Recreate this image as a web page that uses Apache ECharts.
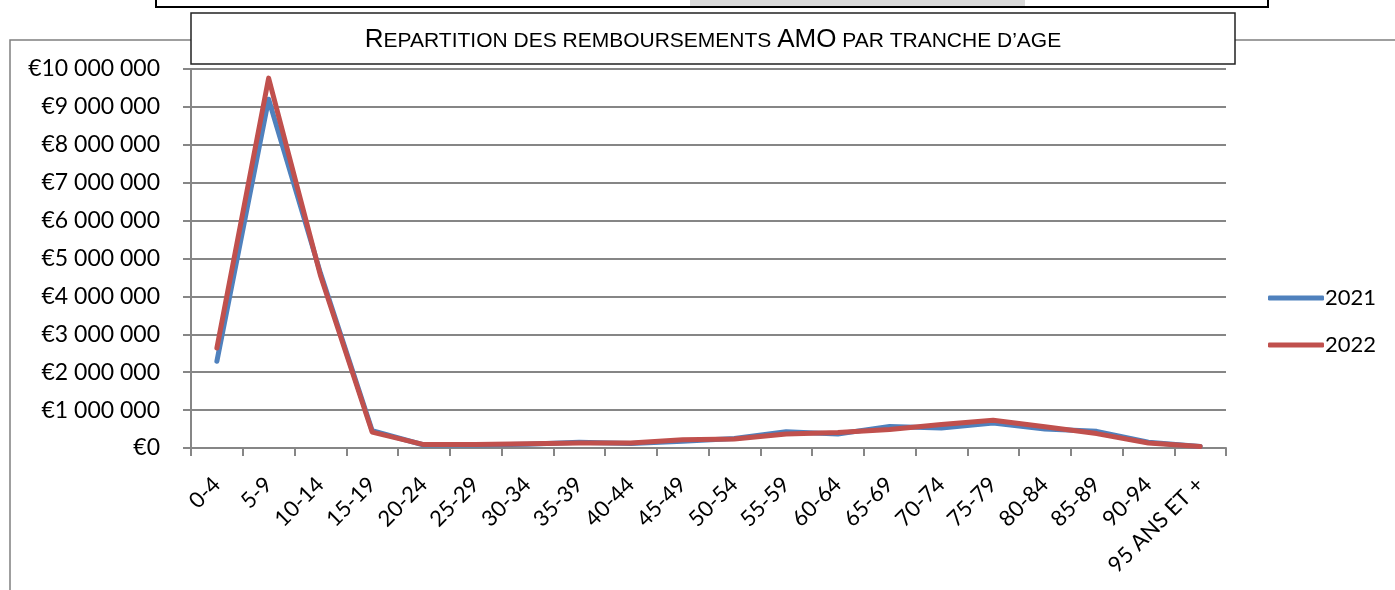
<!DOCTYPE html>
<html>
<head>
<meta charset="utf-8">
<script src="https://cdn.jsdelivr.net/npm/echarts@6/dist/echarts.min.js"></script>
<style>
  html, body { margin: 0; padding: 0; background: #fff; }
  #chart { width: 1395px; height: 590px; }
</style>
</head>
<body>
<div id="chart"></div>
<script>
// tranches d'age
const categories = ['0-4', '5-9', '10-14', '15-19', '20-24', '25-29', '30-34', '35-39', '40-44', '45-49',
    '50-54', '55-59', '60-64', '65-69', '70-74', '75-79', '80-84', '85-89', '90-94', '95 ANS ET +'];
const values2021 = [2290000, 9200000, 4620000, 460000, 80000, 80000, 100000, 150000, 120000, 180000,
    250000, 430000, 370000, 570000, 530000, 660000, 500000, 440000, 150000, 40000];
const values2022 = [2640000, 9760000, 4560000, 420000, 90000, 90000, 110000, 130000, 130000, 220000,
    240000, 370000, 410000, 490000, 620000, 730000, 560000, 380000, 130000, 40000];
const yTicks = { min: 0, max: 10000000, interval: 1000000 };

const labelFont = 'Lato, "Open Sans", sans-serif';
const titleFont = '"Liberation Sans", Arial, sans-serif';
const grey = '#868686';

// format "€1 000 000"
const euro = (v) => '€' + String(v).replace(/\B(?=(\d{3})+(?!\d))/g, ' ');

const chart = echarts.init(document.getElementById('chart'));
chart.setOption({
    animation: false,
    graphic: [
        // cadre extérieur
        { type: 'rect', shape: { x: 10, y: 40, width: 1400, height: 600 },
          style: { fill: 'none', stroke: '#808080', lineWidth: 1.5 }, z: 0 },
        // boite noire du haut (coupée)
        { type: 'rect', shape: { x: 690, y: 0, width: 335, height: 6 },
          style: { fill: '#d9d9d9' }, z: 0 },
        { type: 'rect', shape: { x: 156, y: -10, width: 1112, height: 17 },
          style: { fill: 'none', stroke: '#000', lineWidth: 2 }, z: 0 },
        // boite du titre
        { type: 'rect', shape: { x: 191, y: 13, width: 1044, height: 51 },
          style: { fill: '#fff', stroke: '#222', lineWidth: 1.5 }, z: 10 },
        { type: 'text', x: 713, y: 40, z: 11,
          style: {
              text: '{b|R}{s|EPARTITION DES REMBOURSEMENTS }{b|AMO}{s| PAR TRANCHE D\u2019AGE}',
              align: 'center', verticalAlign: 'middle',
              rich: {
                  b: { fontFamily: titleFont, fontSize: 26, fill: '#000' },
                  s: { fontFamily: titleFont, fontSize: 21, fill: '#000', padding: [3, 0, 0, 0] }
              }
          }
        }
    ],
    grid: { left: 191, right: 169, top: 69, bottom: 142, containLabel: false },
    legend: {
        orient: 'vertical',
        left: 1263,
        top: 282,
        icon: 'roundRect',
        itemWidth: 56,
        itemHeight: 5,
        itemGap: 25,
        textStyle: { fontFamily: labelFont, fontSize: 22, color: '#000', padding: [0, 0, 0, -4] },
        data: ['2021', '2022']
    },
    xAxis: {
        type: 'category',
        data: categories,
        boundaryGap: true,
        axisLine: { lineStyle: { color: grey, width: 2 } },
        axisTick: { show: true, length: 8, interval: 0, lineStyle: { color: grey, width: 2 } },
        axisLabel: { interval: 0, rotate: 45, margin: 33, fontFamily: labelFont, fontSize: 22, color: '#000' }
    },
    yAxis: {
        type: 'value',
        min: yTicks.min,
        max: yTicks.max,
        interval: yTicks.interval,
        axisLine: { show: true, lineStyle: { color: grey, width: 2 } },
        axisTick: { show: true, length: 8, lineStyle: { color: grey, width: 2 } },
        splitLine: { lineStyle: { color: grey, width: 2 } },
        axisLabel: { margin: 31, formatter: euro, fontFamily: labelFont, fontSize: 23, color: '#000' }
    },
    series: [
        {
            name: '2021',
            type: 'line',
            data: values2021,
            showSymbol: false,
            symbol: 'none',
            itemStyle: { color: '#4f81bd' },
            lineStyle: { color: '#4f81bd', width: 5, cap: 'round', join: 'round' }
        },
        {
            name: '2022',
            type: 'line',
            data: values2022,
            showSymbol: false,
            symbol: 'none',
            itemStyle: { color: '#c0504d' },
            lineStyle: { color: '#c0504d', width: 5, cap: 'round', join: 'round' }
        }
    ]
});
</script>
</body>
</html>
